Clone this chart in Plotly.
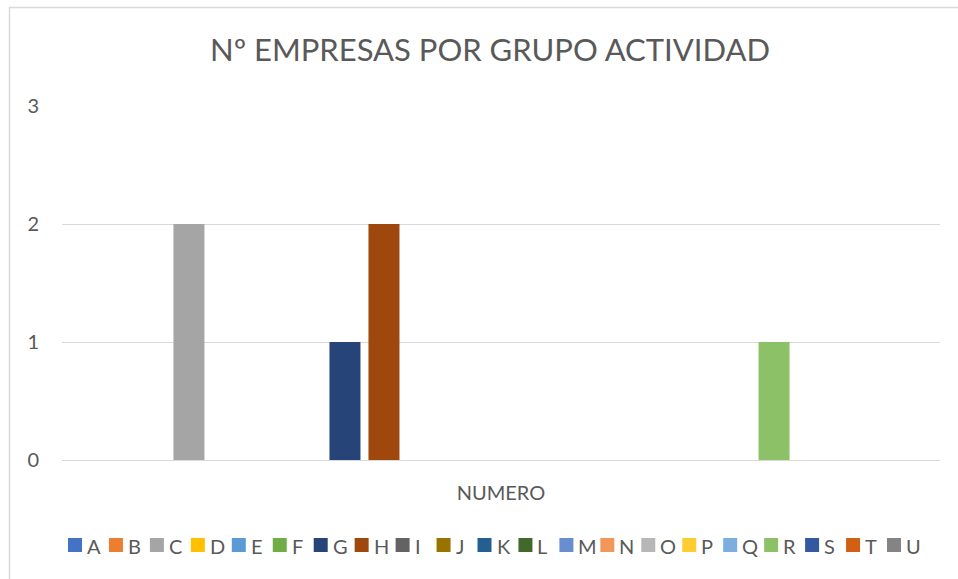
import plotly.graph_objects as go

# Activity groups and number of companies in each
groups = ["A", "B", "C", "D", "E", "F", "G", "H", "I", "J", "K",
          "L", "M", "N", "O", "P", "Q", "R", "S", "T", "U"]
companies = [0, 0, 2, 0, 0, 0, 1, 2, 0, 0, 0,
             0, 0, 0, 0, 0, 0, 1, 0, 0, 0]
category = ["NUMERO"]
y_ticks = [0, 1, 2, 3]

colors = ["#4472C4", "#ED7D31", "#A5A5A5", "#FFC000", "#5B9BD5", "#70AD47",
          "#264478", "#9E480E", "#636363", "#997300", "#255E91", "#43682B",
          "#698ED0", "#F1975A", "#B7B7B7", "#FFCD33", "#7CAFDD", "#8CC168",
          "#335AA1", "#D26012", "#848484"]

W, H = 958, 579
L, R, T, B = 62, 18, 106, 119
PW, PH = W - L - R, H - T - B
FONT = "Lato"
TXT = "#595959"
GRID = "#D9D9D9"


def px_x(px):
    return (px - L) / PW


def px_y(py):
    return (H - B - py) / PH


fig = go.Figure()
for name, val, col in zip(groups, companies, colors):
    fig.add_trace(go.Bar(name=name, x=category, y=[val],
                         marker=dict(color=col, line=dict(width=0)),
                         showlegend=False))

# Legend row: coloured square followed by the group letter
shapes = []
annotations = []
leg_left, leg_pitch = 68, 40.95
for i, (name, col) in enumerate(zip(groups, colors)):
    x0 = leg_left + i * leg_pitch
    shapes.append(dict(type="rect", xref="paper", yref="paper",
                       x0=px_x(x0), x1=px_x(x0 + 14),
                       y0=px_y(552), y1=px_y(538),
                       fillcolor=col, line=dict(width=0)))
    annotations.append(dict(text=name, xref="paper", yref="paper",
                            x=px_x(x0 + 17), y=px_y(546),
                            xanchor="left", yanchor="middle", showarrow=False,
                            font=dict(family=FONT, size=20, color=TXT)))

# Chart area border
shapes.append(dict(type="rect", xref="paper", yref="paper",
                   x0=px_x(9.5), x1=px_x(W + 20), y0=px_y(H + 20), y1=px_y(7.5),
                   line=dict(color=GRID, width=1.5), fillcolor="rgba(0,0,0,0)",
                   layer="below"))

fig.update_layout(
    width=W, height=H,
    margin=dict(l=L, r=R, t=T, b=B),
    paper_bgcolor="white", plot_bgcolor="white",
    barmode="group", bargap=0.067, bargroupgap=0.205,
    title=dict(text="Nº EMPRESAS POR GRUPO ACTIVIDAD",
               x=490 / W, xanchor="center",
               y=1 - 50 / H, yanchor="middle", yref="container",
               font=dict(family=FONT, size=31, color=TXT)),
    font=dict(family=FONT, color=TXT),
    shapes=shapes, annotations=annotations,
    xaxis=dict(showgrid=False, showline=True, linecolor=GRID, linewidth=1.3,
               ticks="", tickfont=dict(size=20, color=TXT),
               ticklabelstandoff=15, fixedrange=True),
    yaxis=dict(range=[0, 3], tickvals=y_ticks, showgrid=True, gridcolor=GRID,
               gridwidth=1.3, zeroline=False, showline=False, ticks="",
               tickfont=dict(size=20, color=TXT), ticklabelstandoff=22,
               fixedrange=True),
)

fig.write_html("out.html")
